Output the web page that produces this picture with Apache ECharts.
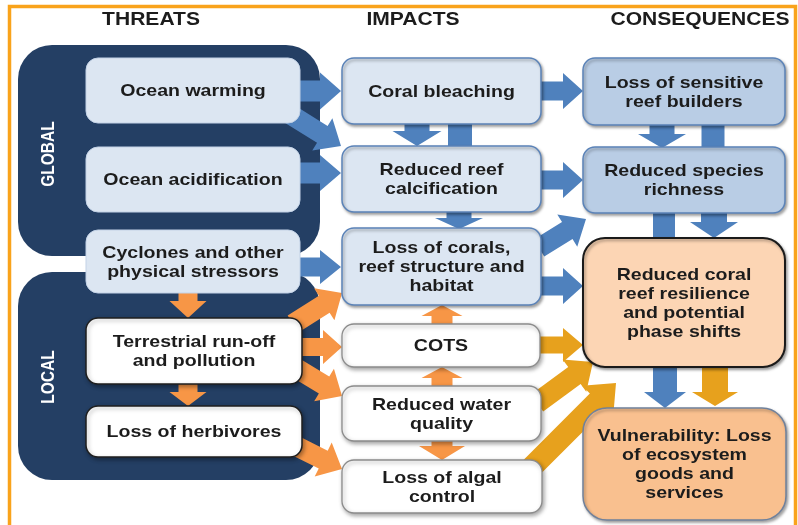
<!DOCTYPE html>
<html><head><meta charset="utf-8">
<script src="https://cdn.jsdelivr.net/npm/echarts@6/dist/echarts.min.js"></script>
<style>html,body{margin:0;padding:0;background:#fff}#c{width:798px;height:525px}</style>
</head><body><div id="c"></div>
<script>
// ---------- content ----------
const headings = ['THREATS', 'IMPACTS', 'CONSEQUENCES'];
const scaleLabels = ['GLOBAL', 'LOCAL'];
const threats = ['Ocean warming', 'Ocean acidification', 'Cyclones and other\nphysical stressors',
  'Terrestrial run-off\nand pollution', 'Loss of herbivores'];
const impacts = ['Coral bleaching', 'Reduced reef\ncalcification', 'Loss of corals,\nreef structure and\nhabitat',
  'COTS', 'Reduced water\nquality', 'Loss of algal\ncontrol'];
const consequences = ['Loss of sensitive\nreef builders', 'Reduced species\nrichness',
  'Reduced coral\nreef resilience\nand potential\nphase shifts', 'Vulnerability: Loss\nof ecosystem\ngoods and\nservices'];
// links: [source, target, driver]
const links = [
  ['Ocean warming', 'Coral bleaching', 'global'],
  ['Ocean warming', 'Reduced reef\ncalcification', 'global'],
  ['Ocean acidification', 'Reduced reef\ncalcification', 'global'],
  ['Cyclones and other\nphysical stressors', 'Loss of corals,\nreef structure and\nhabitat', 'global'],
  ['Coral bleaching', 'Reduced reef\ncalcification', 'global'],
  ['Coral bleaching', 'Loss of corals,\nreef structure and\nhabitat', 'global'],
  ['Reduced reef\ncalcification', 'Loss of corals,\nreef structure and\nhabitat', 'global'],
  ['Coral bleaching', 'Loss of sensitive\nreef builders', 'global'],
  ['Reduced reef\ncalcification', 'Reduced species\nrichness', 'global'],
  ['Loss of corals,\nreef structure and\nhabitat', 'Reduced species\nrichness', 'global'],
  ['Loss of corals,\nreef structure and\nhabitat', 'Reduced coral\nreef resilience\nand potential\nphase shifts', 'global'],
  ['Loss of sensitive\nreef builders', 'Reduced species\nrichness', 'global'],
  ['Loss of sensitive\nreef builders', 'Reduced coral\nreef resilience\nand potential\nphase shifts', 'global'],
  ['Reduced species\nrichness', 'Reduced coral\nreef resilience\nand potential\nphase shifts', 'global'],
  ['Reduced species\nrichness', 'Reduced coral\nreef resilience\nand potential\nphase shifts', 'global'],
  ['Reduced coral\nreef resilience\nand potential\nphase shifts', 'Vulnerability: Loss\nof ecosystem\ngoods and\nservices', 'global'],
  ['Reduced coral\nreef resilience\nand potential\nphase shifts', 'Vulnerability: Loss\nof ecosystem\ngoods and\nservices', 'combined'],
  ['Cyclones and other\nphysical stressors', 'Terrestrial run-off\nand pollution', 'local'],
  ['Terrestrial run-off\nand pollution', 'Loss of herbivores', 'local'],
  ['Terrestrial run-off\nand pollution', 'Loss of corals,\nreef structure and\nhabitat', 'local'],
  ['Terrestrial run-off\nand pollution', 'COTS', 'local'],
  ['Terrestrial run-off\nand pollution', 'Reduced water\nquality', 'local'],
  ['Loss of herbivores', 'Loss of algal\ncontrol', 'local'],
  ['COTS', 'Loss of corals,\nreef structure and\nhabitat', 'local'],
  ['Reduced water\nquality', 'COTS', 'local'],
  ['Reduced water\nquality', 'Loss of algal\ncontrol', 'local'],
  ['COTS', 'Reduced coral\nreef resilience\nand potential\nphase shifts', 'combined'],
  ['Reduced water\nquality', 'Reduced coral\nreef resilience\nand potential\nphase shifts', 'combined'],
  ['Loss of algal\ncontrol', 'Reduced coral\nreef resilience\nand potential\nphase shifts', 'combined']
];

// ---------- layout (diagram units = pixels of a 798x525 canvas) ----------
const headingPos = [[151, 20], [413, 20], [700, 20]];
const groupLayout = [[18, 45, 320, 256], [18, 272, 320, 480]];
const groupLabelPos = [[49, 154], [49, 377]];
const threatLayout = [[86, 58, 300, 123, 'tBlue'], [86, 147, 300, 212, 'tBlue'], [86, 230, 300, 293, 'tBlue'],
  [86, 318, 302, 384, 'tWhite'], [86, 406, 302, 457, 'tWhite']];
const impactLayout = [[342, 58, 541, 124, 'iBlue'], [342, 146, 541, 212, 'iBlue'], [342, 228, 541, 305, 'iBlue'],
  [342, 324, 540, 367, 'iWhite'], [342, 386, 541, 441, 'iWhite'], [342, 460, 542, 513, 'iWhite']];
const consLayout = [[583, 58, 785, 125, 'cBlue'], [583, 147, 785, 213, 'cBlue'],
  [583, 238, 785, 367, 'resil'], [583, 408, 786, 520, 'vuln']];
// per link: x0,y0,x1,y1, shaft width, head width, head length
const linkLayout = [
  [298, 91, 341, 91, 21, 37, 21],
  [288, 113, 341, 146, 20, 38, 22],
  [298, 173, 341, 173, 21, 36, 21],
  [298, 267, 341, 267, 19, 34, 21],
  [417, 123, 417, 146, 25, 49, 15],
  [460, 123, 460, 147, 24, 0, 0],
  [459, 211, 459, 229, 25, 48, 11],
  [540, 91, 583, 91, 19, 36, 20],
  [540, 180, 583, 180, 19, 36, 20],
  [539, 248, 586, 219, 20, 38, 22],
  [540, 286, 583, 286, 19, 36, 20],
  [662, 124, 662, 148, 25, 48, 14],
  [713, 124, 713, 148, 23, 0, 0],
  [664, 212, 664, 239, 22, 0, 0],
  [714, 212, 714, 238, 26, 48, 16],
  [665, 366, 665, 408, 24, 42, 16],
  [715, 366, 715, 406, 26, 46, 14],
  [188, 292, 188, 318, 19, 37, 17],
  [188, 383, 188, 406, 19, 37, 14],
  [293, 324, 342, 293, 20, 38, 21],
  [300, 347, 342, 347, 18, 34, 19],
  [296, 368, 342, 396, 20, 38, 21],
  [296, 446, 342, 469, 20, 38, 21],
  [442, 325, 442, 305, 21, 41, 11],
  [442, 387, 442, 367, 21, 41, 11],
  [442, 440, 442, 460, 21, 46, 14],
  [539, 345, 583, 345, 17, 34, 20],
  [537, 403, 593, 362, 21, 40, 23],
  [527, 472, 616, 383, 22, 44, 26]
];
const driverColor = { global: '#4f81bd', local: '#f79646', combined: '#e7a11d' };
const boxStyle = {
  tBlue: { fill: '#dce6f2', stroke: '#c3d2e6', lw: 1, r: 12, shadow: 0 },
  tWhite: { fill: '#ffffff', stroke: '#1f1f1f', lw: 1.5, r: 12, shadow: 4 },
  iBlue: { fill: '#dce6f2', stroke: '#5b83b8', lw: 1.5, r: 12, shadow: 3 },
  iWhite: { fill: '#ffffff', stroke: '#8c8c8c', lw: 1.3, r: 12, shadow: 4 },
  cBlue: { fill: '#b9cde5', stroke: '#5b83b8', lw: 1.5, r: 12, shadow: 3 },
  resil: { fill: '#fcd5b4', stroke: '#1a1a1a', lw: 2, r: 22, shadow: 3 },
  vuln: { fill: '#f9c08f', stroke: '#6f819c', lw: 1.5, r: 24, shadow: 3 }
};
const FONT = '"Liberation Sans", Arial, sans-serif';
const TXT = '#1c1c1c';

// ---------- build ----------
const boxLabels = [...threats, ...impacts, ...consequences];
const boxLayout = [...threatLayout, ...impactLayout, ...consLayout];

function arrowPts(p0, p1, sw, hw, hl) {
  const dx = p1[0] - p0[0], dy = p1[1] - p0[1];
  const L = Math.hypot(dx, dy), ux = dx / L, uy = dy / L, nx = -uy, ny = ux;
  const P = (b, s) => [b[0] + nx * s, b[1] + ny * s];
  if (!hl) return [P(p0, sw / 2), P(p1, sw / 2), P(p1, -sw / 2), P(p0, -sw / 2)];
  const b = [p1[0] - ux * hl, p1[1] - uy * hl];
  return [P(p0, sw / 2), P(b, sw / 2), P(b, hw / 2), p1, P(b, -hw / 2), P(b, -sw / 2), P(p0, -sw / 2)];
}

const chart = echarts.init(document.getElementById('c'), null, { renderer: 'canvas' });
chart.setOption({
  animation: false,
  backgroundColor: '#ffffff',
  grid: { left: 0, right: 0, top: 0, bottom: 0 },
  xAxis: { type: 'value', min: 0, max: 798, show: false },
  yAxis: { type: 'value', min: 0, max: 525, inverse: true, show: false },
  series: [
    { // frame
      type: 'custom', clip: false, silent: true,
      data: [[9.5, 6.5, 795.5, 540]],
      renderItem: (p, api) => {
        const a = api.coord([api.value(0), api.value(1)]), b = api.coord([api.value(2), api.value(3)]);
        return { type: 'rect', shape: { x: a[0], y: a[1], width: b[0] - a[0], height: b[1] - a[1] },
          style: { fill: null, stroke: '#f9a31b', lineWidth: 3.5 } };
      }
    },
    { // global / local panels
      type: 'custom', clip: false, silent: true,
      data: groupLayout,
      renderItem: (p, api) => {
        const a = api.coord([api.value(0), api.value(1)]), b = api.coord([api.value(2), api.value(3)]);
        const c = api.coord(groupLabelPos[p.dataIndex]);
        return { type: 'group', children: [
          { type: 'rect', shape: { x: a[0], y: a[1], width: b[0] - a[0], height: b[1] - a[1], r: 34 },
            style: { fill: '#243f64' } },
          { type: 'text', x: c[0], y: c[1], rotation: Math.PI / 2, scaleY: 1.15,
            style: { text: scaleLabels[p.dataIndex], font: 'bold 15.5px ' + FONT, fill: '#ffffff',
              align: 'center', verticalAlign: 'middle' } }
        ] };
      }
    },
    { // headings
      type: 'custom', clip: false, silent: true,
      data: headingPos,
      renderItem: (p, api) => {
        const c = api.coord([api.value(0), api.value(1)]);
        return { type: 'text', x: c[0], y: c[1], scaleX: 1.17,
          style: { text: headings[p.dataIndex], font: 'bold 18px ' + FONT, fill: TXT, align: 'center', verticalAlign: 'middle' } };
      }
    },
    { // arrows
      type: 'custom', clip: false, silent: true,
      data: linkLayout,
      renderItem: (p, api) => {
        const a = api.coord([api.value(0), api.value(1)]), b = api.coord([api.value(2), api.value(3)]);
        return { type: 'polygon', shape: { points: arrowPts(a, b, api.value(4), api.value(5), api.value(6)) },
          style: { fill: driverColor[links[p.dataIndex][2]] } };
      }
    },
    { // boxes
      type: 'custom', clip: false, silent: true,
      data: boxLayout,
      renderItem: (p, api) => {
        const a = api.coord([api.value(0), api.value(1)]), b = api.coord([api.value(2), api.value(3)]);
        const st = boxStyle[boxLayout[p.dataIndex][4]];
        return { type: 'group', children: [
          { type: 'rect', shape: { x: a[0], y: a[1], width: b[0] - a[0], height: b[1] - a[1], r: st.r },
            style: { fill: st.fill, stroke: st.stroke, lineWidth: st.lw,
              shadowBlur: st.shadow, shadowOffsetX: st.shadow ? 1.5 : 0, shadowOffsetY: st.shadow ? 2 : 0,
              shadowColor: 'rgba(0,0,0,0.35)' } },
          { type: 'text', x: (a[0] + b[0]) / 2, y: (a[1] + b[1]) / 2 + 1, scaleX: 1.15,
            style: { text: boxLabels[p.dataIndex], font: 'bold 17px ' + FONT, fill: TXT,
              align: 'center', verticalAlign: 'middle', lineHeight: 19 } }
        ] };
      }
    }
  ]
});
</script></body></html>
